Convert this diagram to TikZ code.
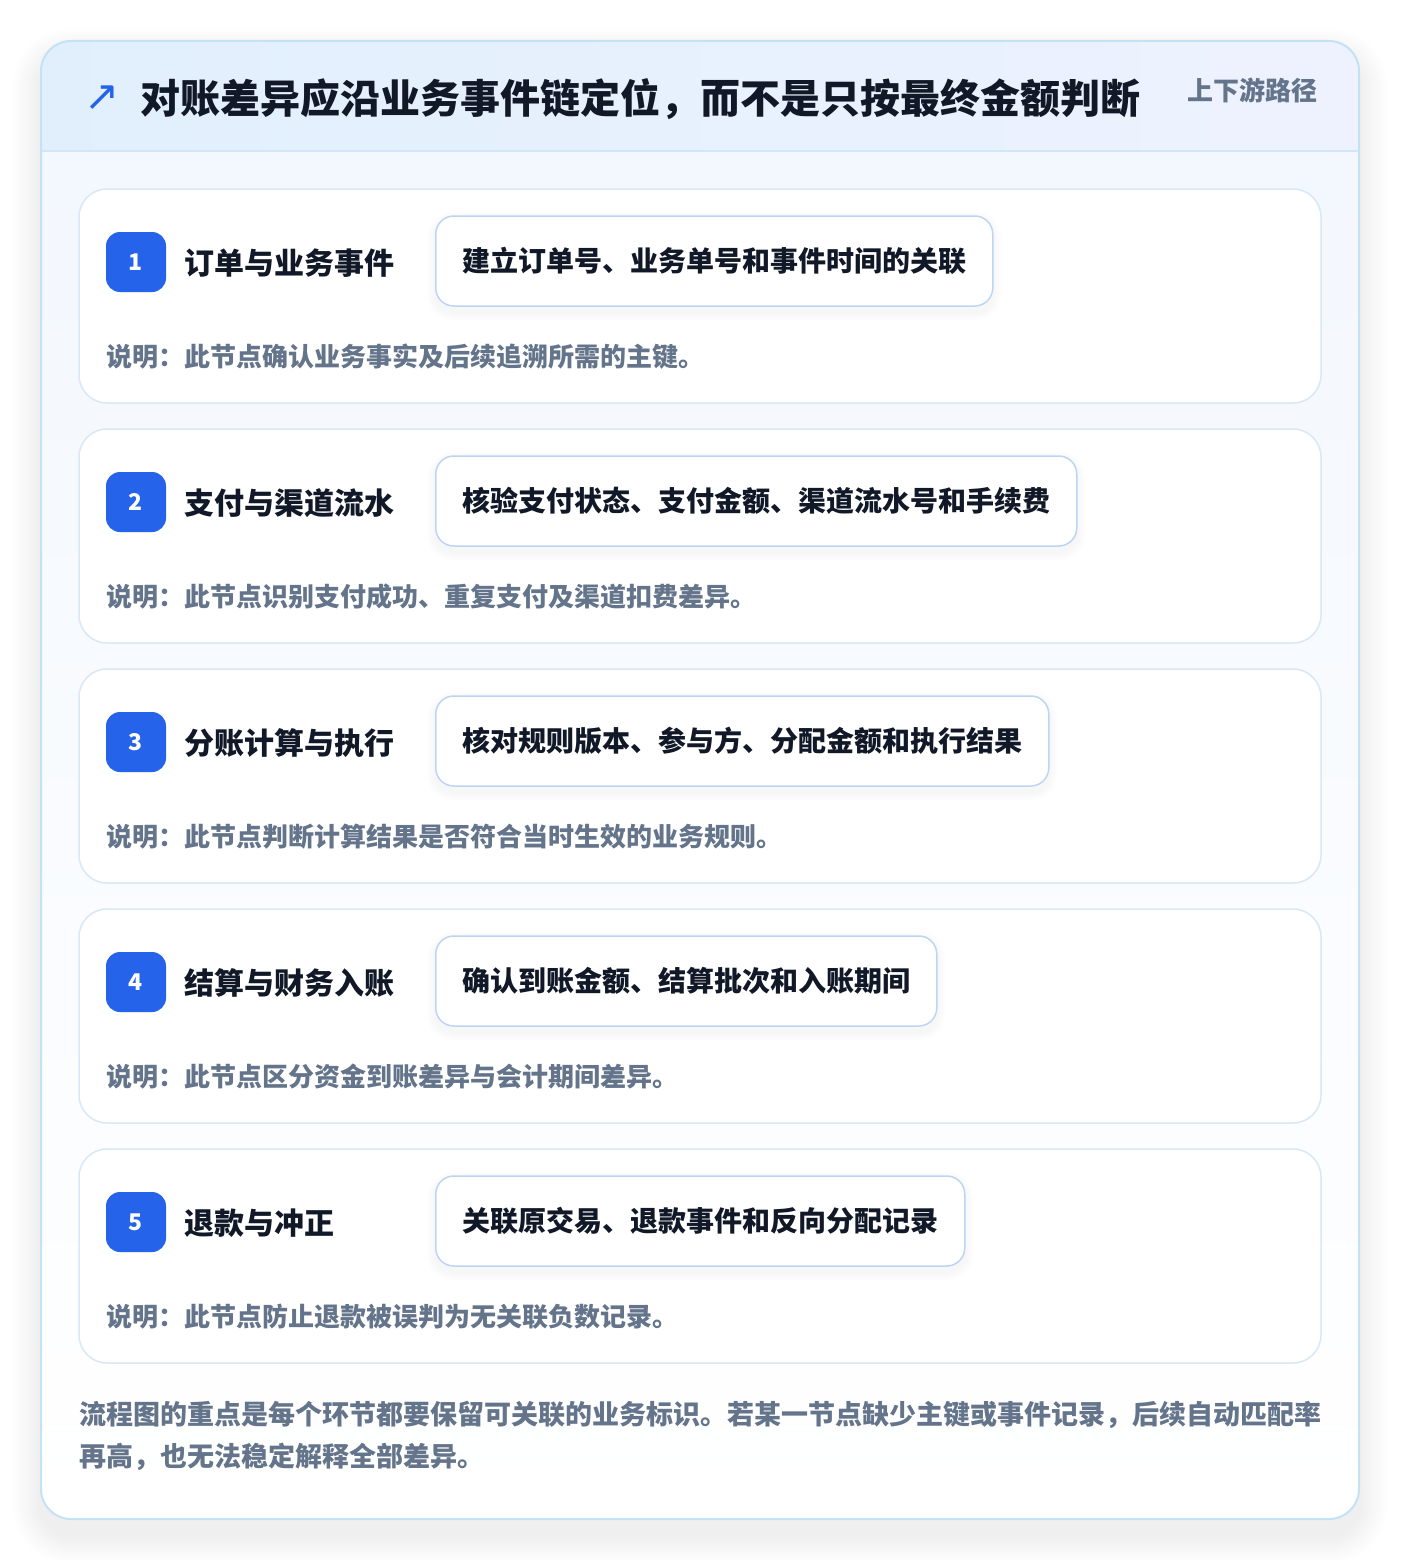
\documentclass[tikz,border=0pt]{standalone}
\usepackage{fontspec}
\setmainfont{Noto Sans CJK SC}
\newfontfamily\symfont{DejaVu Sans}
\definecolor{outerline}{HTML}{C3E2F6}
\definecolor{hdrL}{HTML}{E1EFFD}
\definecolor{hdrR}{HTML}{EEF2FE}
\definecolor{hdrsep}{HTML}{D3E6F7}
\definecolor{bodytop}{HTML}{F2F7FE}
\definecolor{cardline}{HTML}{DAE7F7}
\definecolor{boxline}{HTML}{BDD5F3}
\definecolor{badgeblue}{HTML}{2563EB}
\definecolor{ink}{HTML}{111827}
\definecolor{muted}{HTML}{64748B}
\definecolor{shade}{HTML}{1E293B}
\begin{document}
\begin{tikzpicture}[x=1pt,y=-1pt,
  txt/.style={inner sep=0pt, anchor=west, font=\bfseries},
  card/.style={draw=cardline, line width=1.5pt, fill=white, rounded corners=28pt,
    minimum width=1242pt, minimum height=214pt, inner sep=0pt},
  badge/.style={fill=badgeblue, rounded corners=14pt, minimum width=60pt, minimum height=60pt,
    inner sep=0pt, text=white, font=\fontsize{23pt}{26pt}\selectfont\bfseries},
  ibox/.style={draw=boxline, line width=1.5pt, fill=white, rounded corners=18pt,
    minimum height=90pt, inner xsep=26.5pt, inner ysep=0pt, anchor=west,
    text=ink, font=\fontsize{28pt}{32pt}\selectfont\bfseries},
  shadowlayer/.style={fill=shade, fill opacity=#1},
]
\useasboundingbox (0,0) rectangle (1400,1560);
\fill[white] (0,0) rectangle (1400,1560);
% outer frame shadow (soft, layered)
\foreach \k in {1,...,16}{
  \fill[shadowlayer=0.0045, rounded corners=30pt+\k*1.8pt]
    (41-\k*1.8, 41+16-\k*1.8) rectangle (1359+\k*1.8, 1519+16+\k*1.8);
}
% outer frame
\node[minimum width=1318pt, minimum height=1478pt, rounded corners=30pt, inner sep=0pt,
  top color=bodytop, bottom color=white] (frame) at (700,780) {};
\begin{scope}
  \path[clip, rounded corners=30pt] (41,41) rectangle (1359,1519);
  \fill[left color=hdrL, right color=hdrR] (41,41) rectangle (1359,151);
\end{scope}
\coordinate (sepL) at (41,151);
\coordinate (sepR) at (1359,151);
\draw[hdrsep, line width=1.5pt] (sepL) -- (sepR);
\node[draw=outerline, line width=2pt, minimum width=1318pt, minimum height=1478pt,
  rounded corners=30pt, inner sep=0pt] (frameline) at (700,780) {};
% header texts
\node[inner sep=0pt, text=badgeblue, font=\symfont\fontsize{42pt}{46pt}\selectfont] (icon) at (102,98) {↗};
\node[txt, text=ink, font=\fontsize{40pt}{46pt}\selectfont\bfseries] (title) at (140,99)
  {对账差异应沿业务事件链定位，而不是只按最终金额判断};
\node[inner sep=0pt, anchor=east, text=muted, font=\fontsize{26pt}{30pt}\selectfont\bfseries] (tag) at (1318,90) {上下游路径};
% cards
\foreach \i/\name/\boxt/\desc in {
  1/订单与业务事件/建立订单号、业务单号和事件时间的关联/说明：此节点确认业务事实及后续追溯所需的主键。,
  2/支付与渠道流水/核验支付状态、支付金额、渠道流水号和手续费/说明：此节点识别支付成功、重复支付及渠道扣费差异。,
  3/分账计算与执行/核对规则版本、参与方、分配金额和执行结果/说明：此节点判断计算结果是否符合当时生效的业务规则。,
  4/结算与财务入账/确认到账金额、结算批次和入账期间/说明：此节点区分资金到账差异与会计期间差异。,
  5/退款与冲正/关联原交易、退款事件和反向分配记录/说明：此节点防止退款被误判为无关联负数记录。}{
  \pgfmathsetmacro{\top}{189+240*(\i-1)}
  \node[card] (card\i) at (700,\top+107) {};
  \node[badge] (badge\i) at (136,\top+73) {\i};
  \node[txt, text=ink, font=\fontsize{30pt}{34pt}\selectfont\bfseries] (name\i) at (184,\top+74) {\name};
  \node[ibox, draw=none, fill=none, text=white] (ghost\i) at (435,\top+72) {\boxt};
  \foreach \s in {1,...,8}{
    \fill[shadowlayer=0.005, rounded corners=18pt+\s*1pt]
      ([xshift=-\s*1pt, yshift=-4pt+\s*1pt]ghost\i.north west) rectangle
      ([xshift=\s*1pt, yshift=-6pt-\s*1pt]ghost\i.south east);
  }
  \node[ibox] (box\i) at (435,\top+72) {\boxt};
  \node[txt, text=muted, font=\fontsize{26pt}{30pt}\selectfont\bfseries] (desc\i) at (106,\top+168) {\desc};
}
% footer text
\node[txt, text=muted, font=\fontsize{27pt}{32pt}\selectfont\bfseries] (foot1) at (79,1415)
  {流程图的重点是每个环节都要保留可关联的业务标识。若某一节点缺少主键或事件记录，后续自动匹配率};
\node[txt, text=muted, font=\fontsize{27pt}{32pt}\selectfont\bfseries] (foot2) at (79,1457)
  {再高，也无法稳定解释全部差异。};
\end{tikzpicture}
\end{document}
